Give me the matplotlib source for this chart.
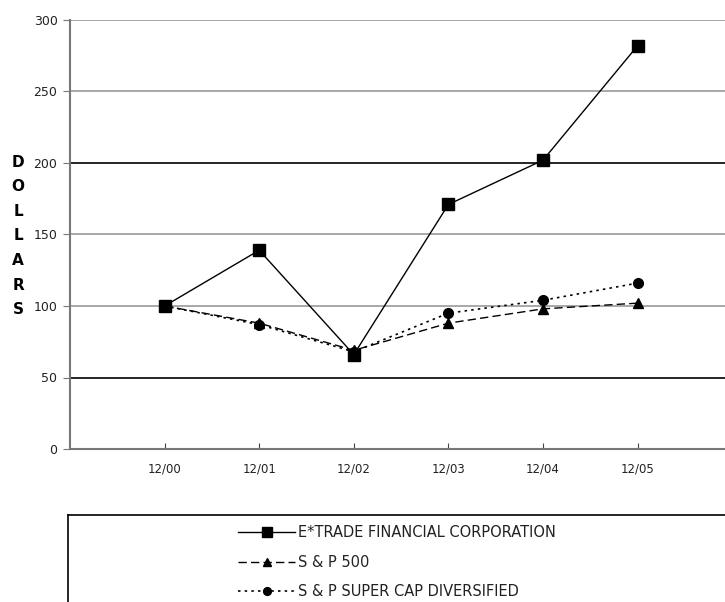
import matplotlib.pyplot as plt

dates = ['12/00', '12/01', '12/02', '12/03', '12/04', '12/05']
etrade = [100, 139, 66, 171, 202, 282]
sp500 = [100, 88, 69, 88, 98, 102]
supercap = [100, 87, 68, 95, 104, 116]
yticks = [0, 50, 100, 150, 200, 250, 300]

fig = plt.figure(figsize=(7.25, 6.02), dpi=100)
ax = fig.add_axes([70 / 725, 1 - 449 / 602, 7 * 94.6 / 725, (449 - 20) / 602])

x = list(range(1, len(dates) + 1))

# gridlines: some gray, some black as in the scan
for v in yticks[1:]:
    c = 'black' if v in (50, 200) else '#999999'
    ax.axhline(v, color=c, lw=1.2, zorder=1)

ax.plot(x, supercap, color='black', lw=1.2, ls=(0, (1.5, 2.5)), marker='o', ms=7,
        label='S & P SUPER CAP DIVERSIFIED', zorder=3)
ax.plot(x, sp500, color='black', lw=1.0, ls=(0, (6, 3)), marker='^', ms=7,
        label='S & P 500', zorder=3)
ax.plot(x, etrade, color='black', lw=1.0, ls='-', marker='s', ms=8.5,
        label='E*TRADE FINANCIAL CORPORATION', zorder=4)

ax.set_xlim(0, 7)
ax.set_ylim(0, 300)
ax.set_yticks(yticks)
ax.set_xticks(x)
ax.set_xticklabels(dates, fontsize=8.5)
ax.tick_params(axis='y', direction='out', length=5, labelsize=9, color='#777777',
               labelcolor='#222222', pad=4)
ax.tick_params(axis='x', direction='in', length=4, color='#444444',
               labelcolor='#222222', pad=10)
for s in ['top', 'right']:
    ax.spines[s].set_visible(False)
ax.spines['left'].set_color('#777777')
ax.spines['bottom'].set_color('#777777')
ax.spines['left'].set_linewidth(1.5)
ax.spines['bottom'].set_linewidth(1.5)

fig.text(18 / 725, 1 - 236 / 602, 'D\nO\nL\nL\nA\nR\nS', ha='center', va='center',
         fontsize=11, fontweight='bold', linespacing=1.8)

# legend box
lax = fig.add_axes([68 / 725, 0, 1.0, (602 - 515) / 602])
lax.set_xticks([])
lax.set_yticks([])
for s in ['bottom', 'right']:
    lax.spines[s].set_visible(False)
lax.spines['top'].set_linewidth(1.2)
lax.spines['left'].set_linewidth(1.2)
lax.patch.set_alpha(0)

h, l = ax.get_legend_handles_labels()
order = [2, 1, 0]
lax.legend([h[i] for i in order], [l[i] for i in order], loc='upper left',
           bbox_to_anchor=(157 / 725, 1.035), frameon=False, fontsize=10.5,
           handlelength=3.9, handletextpad=0.2, labelspacing=1.0, markerscale=0.8,
           labelcolor='#222222')

fig.savefig('out.png', dpi=100)
